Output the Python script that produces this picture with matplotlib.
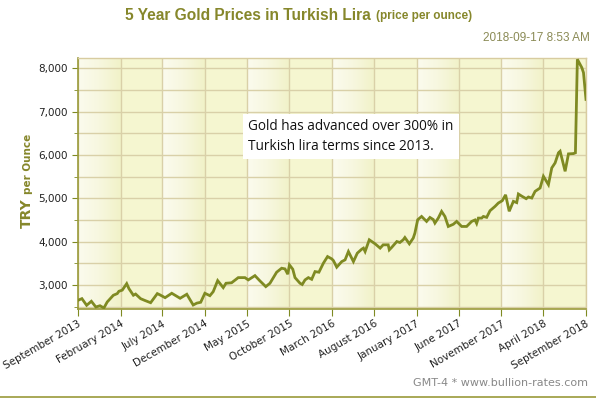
import numpy as np
import pandas as pd
import matplotlib
matplotlib.use("Agg")
import matplotlib.pyplot as plt
import matplotlib.dates as mdates
from matplotlib.ticker import MultipleLocator, FuncFormatter
from matplotlib.colors import LinearSegmentedColormap

# gold price in TRY per ounce
dates = [
    "2013-09-17", "2013-10-01", "2013-10-18", "2013-11-04", "2013-11-20", "2013-12-05",
    "2013-12-19", "2013-12-31", "2014-01-22", "2014-02-05", "2014-02-11", "2014-02-23",
    "2014-03-11", "2014-03-19", "2014-04-04", "2014-04-12", "2014-04-30", "2014-05-16",
    "2014-06-05", "2014-06-29", "2014-07-09", "2014-07-27", "2014-08-20", "2014-09-19",
    "2014-10-13", "2014-11-05", "2014-11-18", "2014-12-02", "2014-12-17", "2015-01-04",
    "2015-01-16", "2015-02-01", "2015-02-21", "2015-03-03", "2015-03-23", "2015-04-16",
    "2015-05-10", "2015-05-22", "2015-06-15", "2015-07-03", "2015-07-24", "2015-08-08",
    "2015-09-01", "2015-09-19", "2015-10-01", "2015-10-11", "2015-10-17", "2015-10-29",
    "2015-11-06", "2015-11-24", "2015-12-02", "2015-12-12", "2015-12-24", "2016-01-05",
    "2016-01-17", "2016-01-31", "2016-02-16", "2016-03-02", "2016-03-17", "2016-03-23",
    "2016-04-04", "2016-04-22", "2016-05-04", "2016-05-16", "2016-06-03", "2016-06-17",
    "2016-07-03", "2016-07-09", "2016-07-15", "2016-07-30", "2016-08-20", "2016-09-07",
    "2016-09-18", "2016-10-06", "2016-10-10", "2016-10-19", "2016-11-06", "2016-11-17",
    "2016-11-29", "2016-12-05", "2016-12-21", "2017-01-04", "2017-01-10", "2017-01-20",
    "2017-02-03", "2017-02-21", "2017-03-05", "2017-03-17", "2017-03-23", "2017-04-04",
    "2017-04-16", "2017-04-28", "2017-05-10", "2017-05-28", "2017-06-09", "2017-06-27",
    "2017-07-15", "2017-08-02", "2017-08-14", "2017-08-20", "2017-08-26", "2017-09-07",
    "2017-09-13", "2017-09-25", "2017-10-07", "2017-10-25", "2017-11-06", "2017-11-20",
    "2017-12-02", "2017-12-15", "2017-12-30", "2018-01-11", "2018-01-17", "2018-01-29",
    "2018-02-14", "2018-02-22", "2018-03-06", "2018-03-18", "2018-04-05", "2018-04-17",
    "2018-05-05", "2018-05-17", "2018-05-29", "2018-06-10", "2018-06-16", "2018-07-04",
    "2018-07-16", "2018-08-03", "2018-08-10", "2018-08-17", "2018-09-02", "2018-09-08",
    "2018-09-17",
]
prices = [
    2646, 2684, 2530, 2623, 2491, 2520,
    2468, 2607, 2762, 2800, 2854, 2880,
    3030, 2915, 2762, 2790, 2683, 2640,
    2590, 2800, 2769, 2706, 2808, 2692,
    2785, 2537, 2580, 2600, 2808, 2752,
    2845, 3100, 2938, 3039, 3050, 3169,
    3169, 3116, 3215, 3093, 2961, 3039,
    3294, 3386, 3370, 3248, 3463, 3363,
    3169, 3039, 3010, 3116, 3169, 3130,
    3308, 3294, 3502, 3655, 3602, 3563,
    3410, 3539, 3579, 3771, 3539, 3734,
    3826, 3850, 3771, 4042, 3949, 3850,
    3926, 3926, 3810, 3870, 4002, 3980,
    4042, 4095, 3949, 4081, 4197, 4505,
    4581, 4466, 4558, 4510, 4428, 4543,
    4697, 4580, 4350, 4400, 4466, 4350,
    4350, 4466, 4500, 4420, 4543, 4543,
    4581, 4560, 4713, 4813, 4891, 4944,
    5080, 4700, 4930, 4900, 5099, 5050,
    4991, 5030, 5006, 5160, 5238, 5507,
    5315, 5701, 5817, 6049, 6086, 5623,
    6025, 6032, 6050, 8208, 8016, 7900,
    7282,
]

tick_dates = ["2013-09-17", "2014-02-17", "2014-07-17", "2014-12-17", "2015-05-17",
              "2015-10-17", "2016-03-17", "2016-08-17", "2017-01-17", "2017-06-17",
              "2017-11-17", "2018-04-17", "2018-09-17"]

x = pd.to_datetime(dates)
ticks = pd.to_datetime(tick_dates)
tnum = mdates.date2num(ticks)

olive = "#7f8a22"
title_col = "#86872b"
grid_col = "#d9d0a8"

fig = plt.figure(figsize=(5.96, 3.99), dpi=100)
ax = fig.add_axes([0.1309, 0.2256, 0.8523, 0.629])

ymin, ymax = 2445, 8238
ax.set_facecolor("#f5f6d0")
# lighter gradient on every other band
grad = np.linspace(0, 1, 64).reshape(1, -1)
cm = LinearSegmentedColormap.from_list("band", ["#fbfbee", "#f7f7df", "#f1f2c8"])
for i in range(0, len(tnum) - 1, 2):
    ax.imshow(grad, cmap=cm, aspect="auto", extent=[tnum[i], tnum[i + 1], ymin, ymax],
              zorder=0, interpolation="bilinear")

ax.plot(x, prices, color=olive, lw=2.0, zorder=3, solid_joinstyle="miter")

ax.set_xlim(tnum[0], tnum[-1])
ax.set_ylim(ymin, ymax)
ax.set_xticks(tnum)
ax.set_xticklabels([t.strftime("%B %Y") for t in ticks], rotation=30, ha="right",
                   rotation_mode="anchor", fontsize=7.5, color="#222222")
ax.yaxis.set_major_locator(MultipleLocator(1000))
ax.yaxis.set_minor_locator(MultipleLocator(500))
ax.yaxis.set_major_formatter(FuncFormatter(lambda v, p: f"{int(v):,}"))
ax.tick_params(axis="y", labelsize=7.5, labelcolor="#222222", color=olive, length=4)
ax.tick_params(axis="y", which="minor", color=olive, length=3)
ax.tick_params(axis="x", color=olive, length=5, pad=2)
ax.grid(True, which="both", axis="y", color=grid_col, lw=1, zorder=1)
ax.grid(True, axis="x", color=grid_col, lw=1, zorder=1)
ax.set_axisbelow(True)

for s in ["left", "bottom"]:
    ax.spines[s].set_color("#9a9a3a")
    ax.spines[s].set_linewidth(1.2)
for s in ["top", "right"]:
    ax.spines[s].set_color("#d8cca0")
    ax.spines[s].set_linewidth(1)

# y label: "TRY" larger than "per Ounce"
fig.text(31 / 596, 1 - 228 / 399, "TRY", rotation=90, rotation_mode="anchor",
         ha="left", va="baseline", color=title_col, fontsize=10, fontweight="bold")
fig.text(31 / 596, 1 - 194 / 399, "per Ounce", rotation=90, rotation_mode="anchor",
         ha="left", va="baseline", color=title_col, fontsize=7.5, fontweight="bold")

# annotation box
ax.text(0.335, 0.687, "Gold has advanced over 300% in\nTurkish lira terms since 2013.",
        transform=ax.transAxes, fontsize=9.8, family="Open Sans", color="#111111",
        va="center", ha="left", linespacing=1.45, zorder=5,
        bbox=dict(boxstyle="square,pad=0.4", fc="white", ec="none"))

fig.text(125 / 596, 0.962, "5 Year Gold Prices in Turkish Lira", color=title_col,
         fontsize=11.2, fontweight="bold", family="Liberation Sans", va="center", ha="left")
fig.text(376 / 596, 0.959, "(price per ounce)", color=title_col, fontsize=8.5,
         fontweight="bold", family="Liberation Sans", va="center", ha="left")
fig.text(0.99, 0.905, "2018-09-17 8:53 AM", color="#8a8a55", fontsize=8.5,
         family="Liberation Sans", va="center", ha="right")
fig.text(0.987, 0.04, "GMT-4 * www.bullion-rates.com", color="#888888", fontsize=8,
         family="DejaVu Sans", va="center", ha="right")
fig.add_artist(plt.Line2D([0, 1], [0.006, 0.006], color="#9a9a3a", lw=1.2,
                          transform=fig.transFigure))

fig.savefig("out.png", dpi=100)
